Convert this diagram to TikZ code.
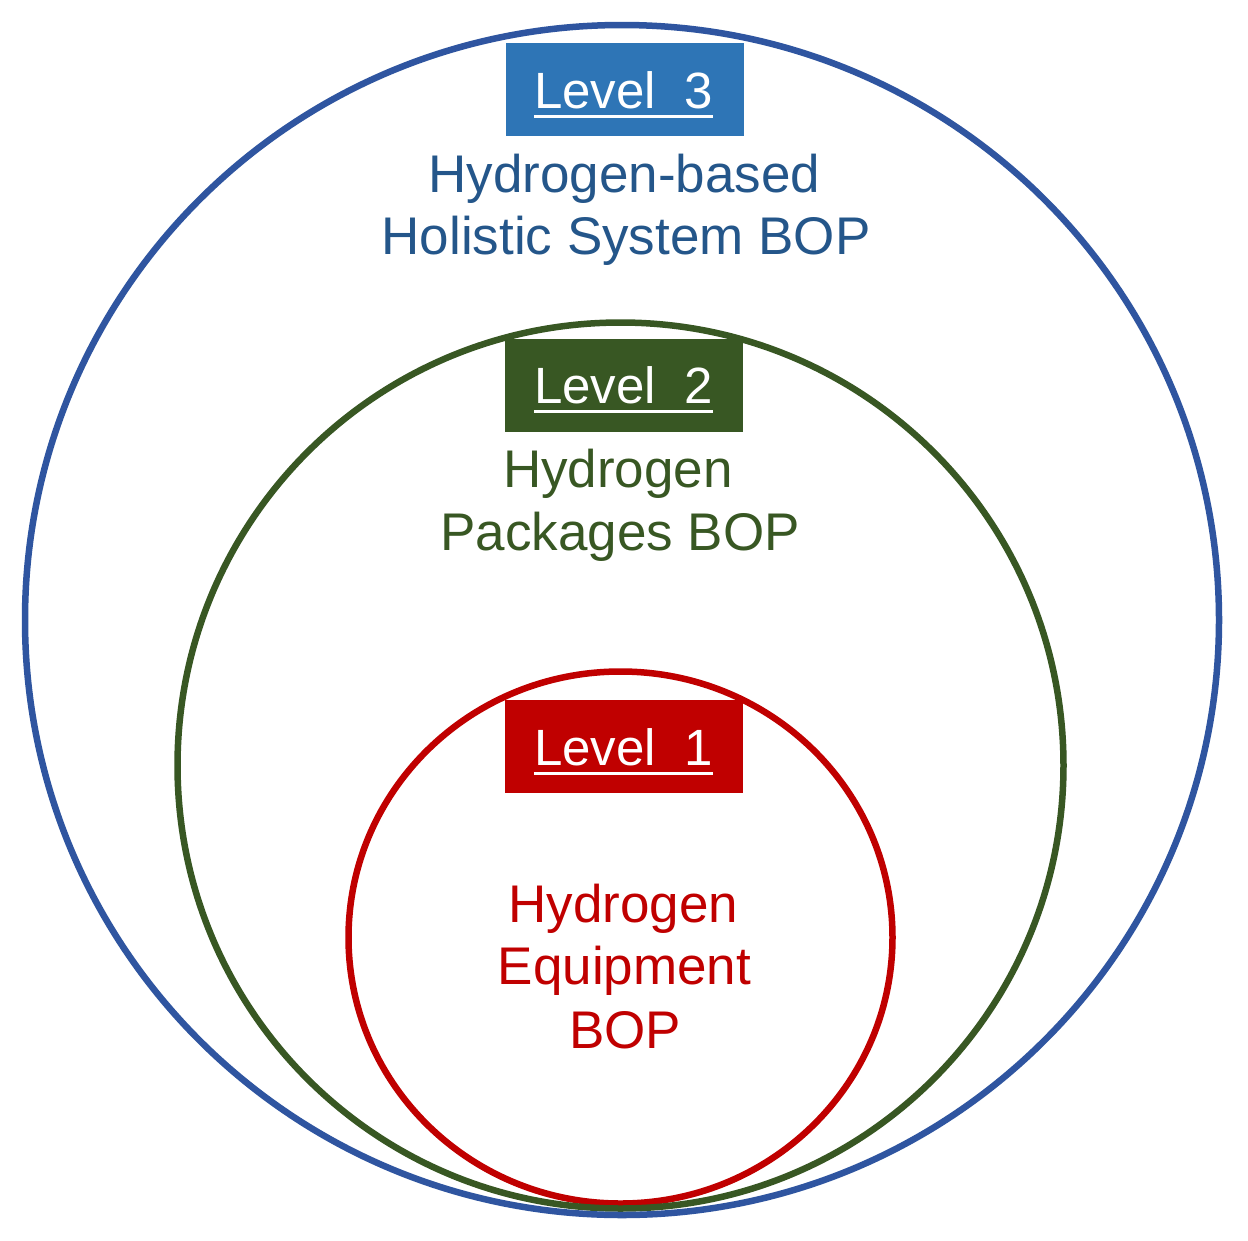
\documentclass[tikz,border=0pt]{standalone}
\usepackage{fontspec}
\setmainfont{Liberation Sans}
\definecolor{l3line}{RGB}{47,85,160}
\definecolor{l3box}{RGB}{46,117,182}
\definecolor{l3text}{RGB}{36,86,138}
\definecolor{l2green}{RGB}{56,87,35}
\definecolor{l1red}{RGB}{192,0,0}
\newcommand{\lvltext}[1]{\setbox0\hbox{#1}\rlap{\usebox0}\rule[-9.5pt]{\wd0}{3pt}}
\tikzset{
  ring/.style={line width=6.5pt},
  lvlbox/.style={rectangle, minimum width=238pt, minimum height=93pt, inner sep=0pt, draw=none},
  lvllabel/.style={anchor=base, text=white, font=\fontsize{51}{60}\selectfont, inner sep=0pt},
  desc/.style={anchor=base, font=\fontsize{53}{62}\selectfont, inner sep=0pt},
}
\begin{document}
\begin{tikzpicture}[x=1pt,y=-1pt]
\useasboundingbox (0,0) rectangle (1248,1240);
\fill[white] (0,0) rectangle (1248,1240);
% rings
\draw[ring, l1red] (620.5,937.5) ellipse [x radius=272pt, y radius=266pt];
\draw[ring, l2green] (620.5,765.5) circle [radius=443pt];
\draw[ring, l3line] (622,620) ellipse [x radius=597pt, y radius=595pt];
% level boxes
\node[lvlbox, fill=l3box] (b3) at (624.5,89.5) {};
\node[lvlbox, fill=l2green] (b2) at (624,385) {};
\node[lvlbox, fill=l1red] (b1) at (624,746) {};
% level labels
\node[lvllabel] (t3) at (623.5,108) {\lvltext{Level\ \ 3}};
\node[lvllabel] (t2) at (623.5,403) {\lvltext{Level\ \ 2}};
\node[lvllabel] (t1) at (623.5,765) {\lvltext{Level\ \ 1}};
% descriptions
\node[desc, text=l3text] (d3a) at (624.5,192) {Hydrogen-based};
\node[desc, text=l3text] (d3b) at (626,254) {Holistic System BOP};
\node[desc, text=l2green] (d2a) at (618,487) {Hydrogen};
\node[desc, text=l2green] (d2b) at (620,550) {Packages BOP};
\node[desc, text=l1red] (d1a) at (623.5,922) {Hydrogen};
\node[desc, text=l1red] (d1b) at (624.5,984) {Equipment};
\node[desc, text=l1red] (d1c) at (625,1048) {BOP};
\end{tikzpicture}
\end{document}
